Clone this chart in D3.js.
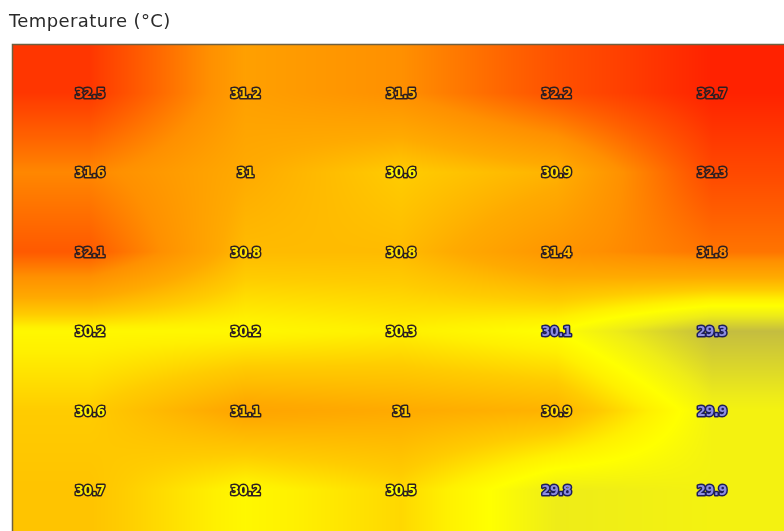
<!DOCTYPE html>
<html>
<head>
<meta charset="utf-8">
<script src="https://cdn.jsdelivr.net/npm/d3@7"></script>
<style>
  html, body { margin: 0; padding: 0; background: #fff; overflow: hidden; }
  #wrap { position: relative; width: 784px; height: 531px; }
  #wrap canvas, #wrap svg { position: absolute; left: 0; top: 0; }
</style>
</head>
<body>
<div id="wrap"></div>
<script>
// Sensor grid: 5 columns across, 6 rows down (°C)
const columns = [0, 1, 2, 3, 4];
const rows = [0, 1, 2, 3, 4, 5];
const row1 = [32.5, 31.2, 31.5, 32.2, 32.7];
const row2 = [31.6, 31.0, 30.6, 30.9, 32.3];
const row3 = [32.1, 30.8, 30.8, 31.4, 31.8];
const row4 = [30.2, 30.2, 30.3, 30.1, 29.3];
const row5 = [30.6, 31.1, 31.0, 30.9, 29.9];
const row6 = [30.7, 30.2, 30.5, 29.8, 29.9];
const grid = [row1, row2, row3, row4, row5, row6];

// Colour ramp stops (°C -> colour)
const rampValues = [29.3, 29.8, 30.1, 30.3, 30.6, 31.0, 31.5, 32.0, 32.4, 32.7];
const rampColors = ["#c4bd40", "#eeec18", "#ffff00", "#fff000", "#ffcc00", "#ffaa00",
                    "#ff9000", "#ff6200", "#ff4000", "#ff2200"];

const W = 784, H = 531;
const plot = { left: 12, top: 44, right: W, bottom: H };

const x = d3.scaleLinear().domain([0, columns.length - 1]).range([90, 712]);
const y = d3.scaleLinear().domain([0, rows.length - 1]).range([93, 490]);
const colour = d3.scaleLinear().domain(rampValues).range(rampColors)
  .interpolate(d3.interpolateRgb).clamp(true);

// Bilinear value at grid coordinates (clamped at the edges)
function valueAt(gx, gy) {
  gx = Math.max(0, Math.min(columns.length - 1, gx));
  gy = Math.max(0, Math.min(rows.length - 1, gy));
  const i0 = Math.min(columns.length - 2, Math.floor(gx));
  const j0 = Math.min(rows.length - 2, Math.floor(gy));
  const tx = gx - i0, ty = gy - j0;
  const a = grid[j0][i0], b = grid[j0][i0 + 1];
  const c = grid[j0 + 1][i0], d = grid[j0 + 1][i0 + 1];
  return (a * (1 - tx) + b * tx) * (1 - ty) + (c * (1 - tx) + d * tx) * ty;
}

const wrap = d3.select("#wrap");

// Heat field on a canvas
const canvas = wrap.append("canvas").attr("width", W).attr("height", H).node();
const ctx = canvas.getContext("2d");
const pw = plot.right - plot.left, ph = plot.bottom - plot.top;
const img = ctx.createImageData(pw, ph);
for (let py = 0; py < ph; py++) {
  const gy = y.invert(plot.top + py + 0.5);
  for (let px = 0; px < pw; px++) {
    const gx = x.invert(plot.left + px + 0.5);
    const c = d3.rgb(colour(valueAt(gx, gy)));
    const k = (py * pw + px) * 4;
    img.data[k] = c.r; img.data[k + 1] = c.g; img.data[k + 2] = c.b; img.data[k + 3] = 255;
  }
}
ctx.putImageData(img, plot.left, plot.top);

const svg = wrap.append("svg").attr("width", W).attr("height", H);

// Frame lines on top and left
svg.append("path")
  .attr("d", `M${plot.left + 0.5},${plot.bottom}V${plot.top + 0.5}H${plot.right}`)
  .attr("fill", "none").attr("stroke", "#6f6040").attr("stroke-width", 1.5);

// Title
svg.append("text")
  .attr("x", 9).attr("y", 27)
  .attr("font-family", "'DejaVu Sans', sans-serif")
  .attr("font-size", 18)
  .attr("letter-spacing", "0.4")
  .attr("fill", "#2a2a2a")
  .text("Temperature (°C)");

// Value labels
const cells = [];
grid.forEach((r, j) => r.forEach((v, i) => cells.push({ i, j, v })));
const cool = v => v < 30.15;
svg.append("g").selectAll("text").data(cells).join("text")
  .attr("x", d => x(d.i))
  .attr("y", d => y(d.j))
  .attr("dy", "0.36em")
  .attr("text-anchor", "middle")
  .attr("font-family", "'DejaVu Sans Condensed', 'DejaVu Sans', sans-serif")
  .attr("font-weight", "bold")
  .attr("font-size", 14)
  .attr("letter-spacing", "-0.3")
  .attr("paint-order", "stroke")
  .attr("stroke", d => cool(d.v) ? "#1c1c5a" : "#2e1e22")
  .attr("stroke-width", 3)
  .attr("stroke-linejoin", "round")
  .attr("fill", d => cool(d.v) ? "#8c8ce0" : d3.color(colour(d.v)).brighter(0.5).formatHex())
  .text(d => String(d.v));
</script>
</body>
</html>
